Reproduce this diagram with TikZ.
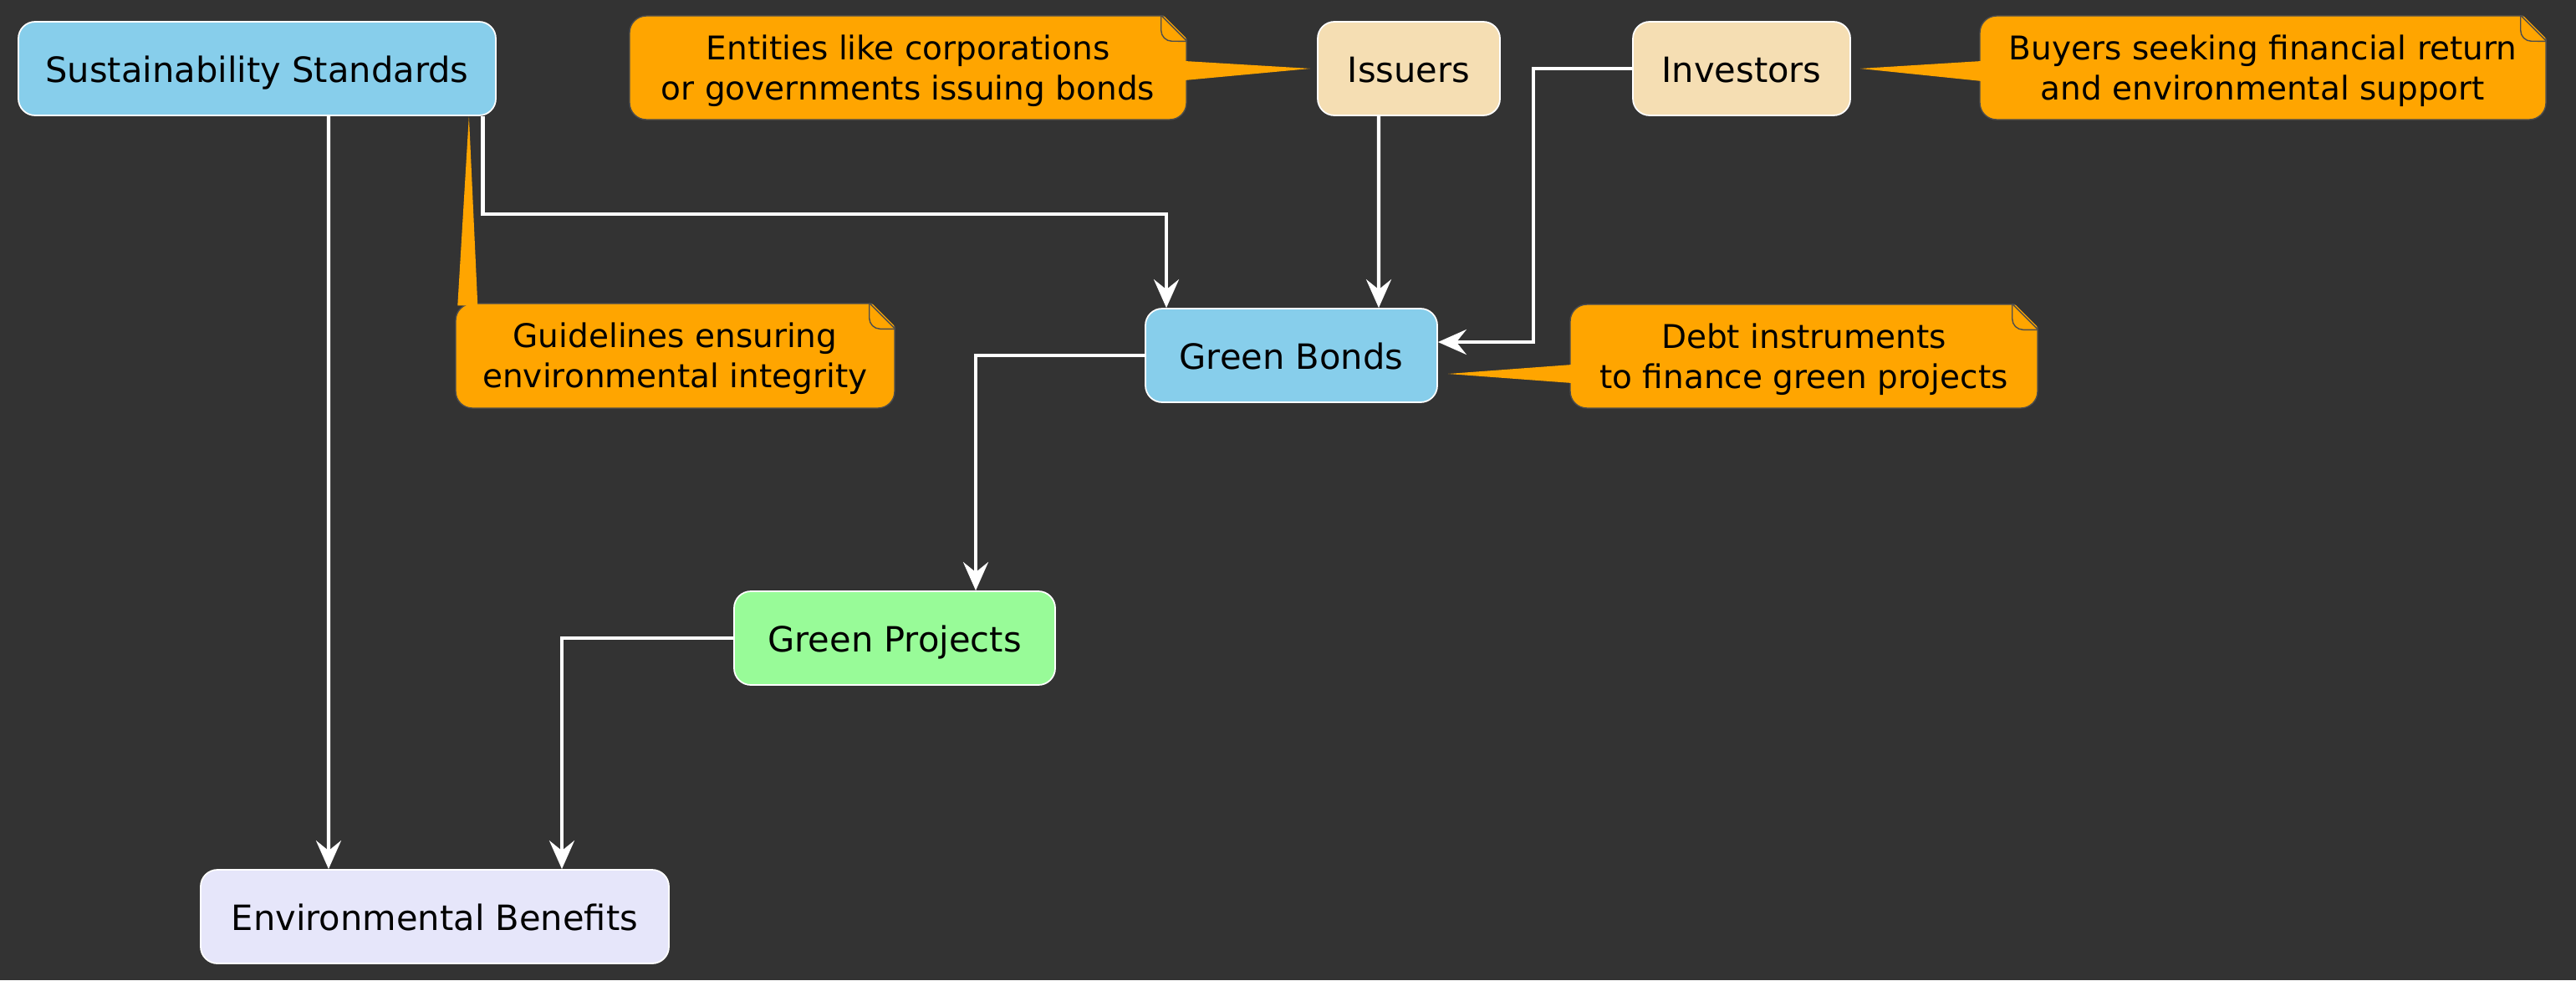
\documentclass[tikz,border=0pt]{standalone}
\usepackage{fontspec}
\setmainfont{DejaVu Sans}
\usepackage{tikz}
\usetikzlibrary{arrows.meta, positioning, calc}

\definecolor{bgdark}{HTML}{333333}
\definecolor{skyblue}{HTML}{87CEEB}
\definecolor{wheat}{HTML}{F5DEB3}
\definecolor{palegreen}{HTML}{98FB98}
\definecolor{lavender}{HTML}{E6E6FA}
\definecolor{noteorange}{HTML}{FFA500}
\definecolor{notegray}{HTML}{4D4D4D}

\begin{document}
\begin{tikzpicture}[
    box/.style={draw=white, line width=0.5pt, rounded corners=0.2cm, inner sep=0pt,
      minimum height=1.12cm, text=black, text height=0.32cm, text depth=0cm,
      font={\fontsize{11.84}{14}\selectfont}},
    notebox/.style={fill=noteorange, draw=notegray, line width=0.4pt, rounded corners=0.2cm,
      inner sep=0pt, minimum height=1.24cm, align=center, text=black, text depth=0.01cm,
      font={\fontsize{11.1}{13.7}\selectfont}},
    notefold/.style={draw=notegray, line width=0.4pt},
    flow/.style={draw=white, line width=1.2pt, -{Stealth[length=0.34cm, width=0.3cm, inset=0.12cm]}}
  ]
  %% Background
  \fill[bgdark] (0,0) rectangle (30.81,-11.72);
  \useasboundingbox (0,0) rectangle (30.81,-11.72);

  %% Boxes
  \node[box, fill=skyblue, minimum width=5.71cm] (sust) at (3.075,-0.82) {Sustainability Standards};
  \node[box, fill=wheat, minimum width=2.18cm] (issuers) at (16.85,-0.82) {Issuers};
  \node[box, fill=wheat, minimum width=2.60cm] (investors) at (20.83,-0.82) {Investors};
  \node[box, fill=skyblue, minimum width=3.49cm] (bonds) at (15.445,-4.25) {Green Bonds};
  \node[box, fill=palegreen, minimum width=3.84cm] (proj) at (10.70,-7.63) {Green Projects};
  \node[box, fill=lavender, minimum width=5.60cm] (env) at (5.20,-10.96) {Environmental Benefits};

  %% Notes
  \node[notebox, minimum width=6.66cm] (entnote) at (10.86,-0.81) {Entities like corporations\\or governments issuing bonds};
  \node[notebox, minimum width=6.77cm] (invnote) at (27.065,-0.81) {Buyers seeking financial return\\and environmental support};
  \node[notebox, minimum width=5.25cm, minimum height=1.25cm] (guidenote) at (8.075,-4.255) {Guidelines ensuring\\environmental integrity};
  \node[notebox, minimum width=5.59cm] (debtnote) at (21.575,-4.26) {Debt instruments\\to finance green projects};

  %% Folded corners
  \foreach \n in {entnote, invnote, guidenote, debtnote} {
    \fill[bgdark] ([shift={(-0.31,0.03)}]\n.north east) -- ([shift={(0.03,0.03)}]\n.north east)
      -- ([shift={(0.03,-0.31)}]\n.north east) -- cycle;
    \draw[notefold] ([xshift=-0.31cm]\n.north east) -- ([yshift=-0.31cm]\n.north east);
    \draw[notefold] ([xshift=-0.31cm]\n.north east) -- ++(0,-0.18)
      arc[start angle=180, end angle=270, radius=0.13] -- ([yshift=-0.31cm]\n.north east);
  }

  %% Note pointers
  \fill[noteorange] ([xshift=-0.08cm]issuers.west) -- ([shift={(-0.03,0.08)}]entnote.east)
    -- ([shift={(-0.03,-0.15)}]entnote.east) -- cycle;
  \fill[noteorange] ([xshift=0.11cm]investors.east) -- ([shift={(0.03,0.08)}]invnote.west)
    -- ([shift={(0.03,-0.16)}]invnote.west) -- cycle;
  \fill[noteorange] ([xshift=-0.33cm]sust.south east) -- ([shift={(0.03,-0.03)}]guidenote.north west)
    -- ([shift={(0.27,-0.03)}]guidenote.north west) -- cycle;
  \fill[noteorange] ([shift={(0.12,-0.22)}]bonds.east) -- ([shift={(0.03,-0.10)}]debtnote.west)
    -- ([shift={(0.03,-0.32)}]debtnote.west) -- cycle;

  %% Connectors
  \draw[flow] ([xshift=0.855cm]sust.south) -- ([xshift=-1.27cm]env.north);
  \draw[flow] ([xshift=2.70cm]sust.south) -- ++(0,-1.17) -| ([xshift=-1.495cm]bonds.north);
  \draw[flow] ([xshift=-0.36cm]issuers.south) -- ([xshift=1.045cm]bonds.north);
  \draw[flow] (investors.west) -- ++(-1.18,0) |- ([yshift=0.16cm]bonds.east);
  \draw[flow] (bonds.west) -| ([xshift=0.97cm]proj.north);
  \draw[flow] (proj.west) -| ([xshift=1.52cm]env.north);
\end{tikzpicture}
\end{document}
